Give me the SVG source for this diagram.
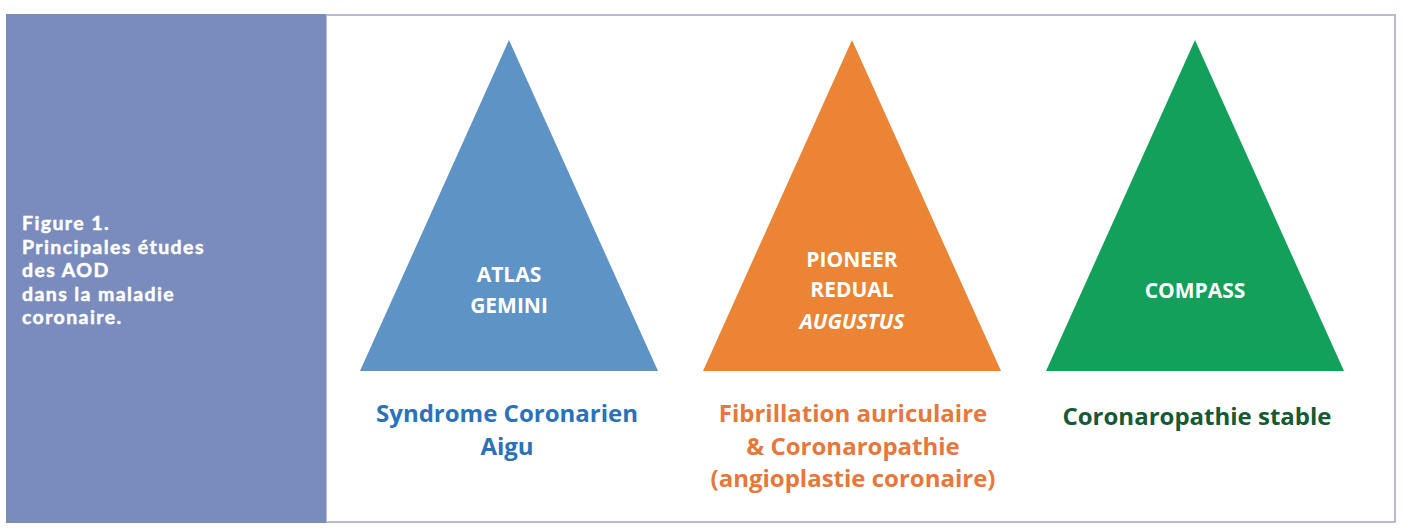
<svg xmlns="http://www.w3.org/2000/svg" width="1413" height="530" viewBox="0 0 1413 530">
<style>
.tri-lbl{font-family:"Open Sans","Liberation Sans",sans-serif;font-weight:bold;font-size:21px;fill:#ffffff;text-anchor:middle}
.cap{font-family:"Open Sans","Liberation Sans",sans-serif;font-weight:bold;font-size:24px;text-anchor:middle}
.fig{font-family:"Lato","Liberation Sans",sans-serif;font-weight:bold;font-size:19.5px;letter-spacing:1.4px;fill:#ffffff;stroke:#ffffff;stroke-width:0.5px}
</style>
<rect x="0" y="0" width="1413" height="530" fill="#ffffff"/>
<rect x="326" y="15" width="1069" height="507" fill="#ffffff" stroke="#b6bad8" stroke-width="2"/>
<g id="panel">
<rect x="6" y="14" width="320" height="509" fill="#7a8bbd"/>
<text class="fig" x="22" y="230">Figure 1.</text>
<text class="fig" x="22" y="253.5">Principales études</text>
<text class="fig" x="22" y="277">des AOD</text>
<text class="fig" x="22" y="300.5">dans la maladie</text>
<text class="fig" x="22" y="324">coronaire.</text>
</g>
<g id="connectors"></g>
<g id="node-sca">
<polygon points="509,40 658,371 360,371" fill="#5e93c5"/>
<text class="tri-lbl" x="509" y="282">ATLAS</text>
<text class="tri-lbl" x="509" y="313">GEMINI</text>
<text class="cap" x="507" y="422" fill="#2a72bc">Syndrome Coronarien</text>
<text class="cap" x="507" y="455" fill="#2a72bc">Aigu</text>
</g>
<g id="node-fa">
<polygon points="852,40 1001,371 703,371" fill="#eb8434"/>
<text class="tri-lbl" x="852" y="267">PIONEER</text>
<text class="tri-lbl" x="852" y="297">REDUAL</text>
<text class="tri-lbl" x="852" y="329" font-style="italic">AUGUSTUS</text>
<text class="cap" x="853" y="422" fill="#e8773a">Fibrillation auriculaire</text>
<text class="cap" x="853" y="455" fill="#e8773a">&amp; Coronaropathie</text>
<text class="cap" x="853" y="487" fill="#e8773a">(angioplastie coronaire)</text>
</g>
<g id="node-stable">
<polygon points="1195,40 1344,371 1046,371" fill="#13a05b"/>
<text class="tri-lbl" x="1195" y="298">COMPASS</text>
<text class="cap" x="1197" y="425" fill="#155a33">Coronaropathie stable</text>
</g>
</svg>
